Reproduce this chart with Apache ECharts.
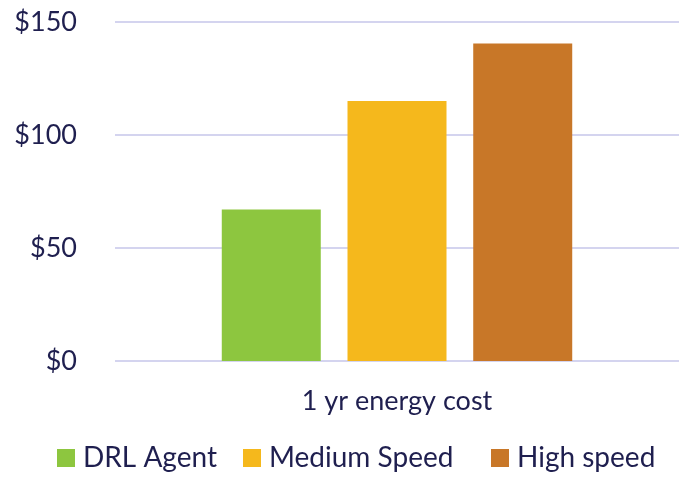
<!DOCTYPE html>
<html>
<head>
<meta charset="utf-8">
<script src="https://cdn.jsdelivr.net/npm/echarts@6/dist/echarts.min.js"></script>
<style>
  html, body { margin: 0; padding: 0; background: #fff; }
  #main { width: 679px; height: 479px; }
</style>
</head>
<body>
<div id="main"></div>
<script>
// data
const categories = ['1 yr energy cost']
const seriesNames = ['DRL Agent', 'Medium Speed', 'High speed']
const seriesValues = [[67], [115], [140.5]]
const seriesColors = ['#8dc63f', '#f5b81c', '#c87728']
const yTicks = { min: 0, max: 150, interval: 50 }

// where each legend entry starts (one legend per series)
const legendLeft = [52, 238, 486]

const textColor = '#1f1f4f'
const font = 'Lato, "Noto Sans", sans-serif'

var myChart = echarts.init(document.getElementById('main'))

const options = {
  animation: false,
  textStyle: { fontFamily: font, color: textColor },
  grid: { left: 115, right: -4, top: 22, bottom: 118, containLabel: false },
  legend: seriesNames.map((name, i) => ({
    bottom: 2,
    left: legendLeft[i],
    itemWidth: 18,
    itemHeight: 18,
    itemGap: 0,
    icon: 'rect',
    textStyle: { fontSize: 28, color: textColor, fontFamily: font, padding: [0, 0, 0, 3] },
    data: [name]
  })),
  xAxis: {
    type: 'category',
    data: categories,
    axisLine: { show: false },
    axisTick: { show: false },
    axisLabel: { fontSize: 27, color: textColor, margin: 27, fontFamily: font }
  },
  yAxis: {
    type: 'value',
    min: yTicks.min,
    max: yTicks.max,
    interval: yTicks.interval,
    axisLine: { show: false },
    axisTick: { show: false },
    axisLabel: {
      fontSize: 27,
      color: textColor,
      margin: 38,
      fontFamily: font,
      formatter: v => '$' + v
    },
    splitLine: { lineStyle: { color: '#d4d4ef', width: 2 } }
  },
  series: seriesNames.map((name, i) => ({
    name: name,
    type: 'bar',
    data: seriesValues[i],
    barWidth: 99,
    barGap: '27%',
    itemStyle: { color: seriesColors[i] }
  }))
}

myChart.setOption(options)
</script>
</body>
</html>
